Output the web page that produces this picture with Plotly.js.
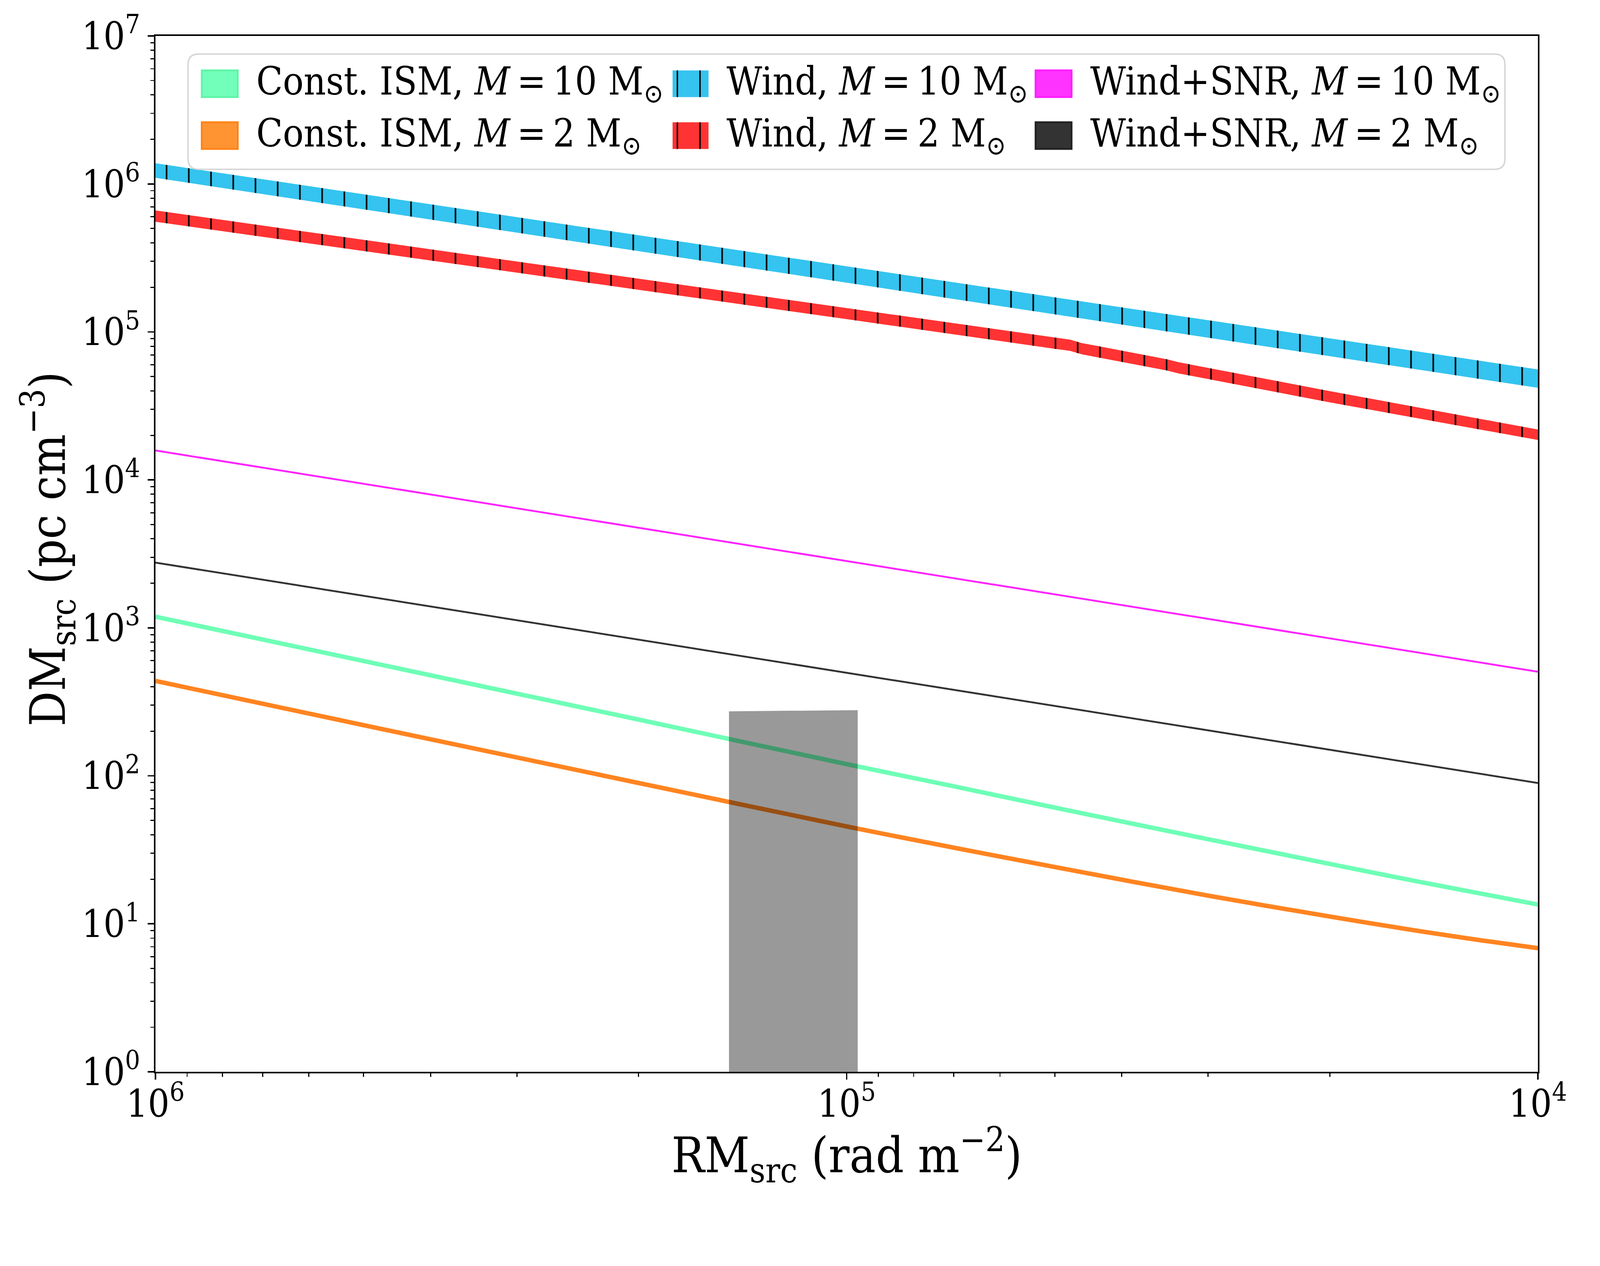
<!DOCTYPE html>
<html>
<head>
<meta charset="utf-8">
<script src="https://cdn.plot.ly/plotly-3.0.1.min.js"></script>
<style>
  html, body { margin: 0; padding: 0; background: #fff; overflow: hidden; }
</style>
</head>
<body>
<div id="chart"></div>
<script>
// values (RM in rad m^-2, DM in pc cm^-3)
var rmIsm = [1e6, 5e5, 2e5, 1e5, 7e4, 5e4, 3e4, 2e4, 1.5e4, 1.2e4, 1e4];
var ismM10 = [1190, 597, 240, 120, 85, 61, 37.3, 25.4, 19.4, 15.9, 13.5];
var ismM2 = [438, 220, 89.5, 45.5, 32.7, 24.2, 15.5, 11.2, 9.0, 7.7, 6.85];

var rmLine = [1e6, 3e5, 1e5, 3e4, 1e4];
var windM10Hi = [1.38e6, 5.96e5, 2.77e5, 1.20e5, 5.58e4];
var windM10Lo = [1.10e6, 4.69e5, 2.15e5, 9.14e4, 4.19e4];
var snrM10 = [1.58e4, 6.44e3, 2.83e3, 1.15e3, 505];
var snrM2 = [2.76e3, 1.13e3, 497, 203, 89.5];

var rmWindM2 = [1e6, 3e5, 1e5, 5e4, 4.75e4, 4.57e4, 3.55e4, 3.44e4, 3.31e4, 2e4, 1e4];
var windM2Hi = [6.62e5, 2.99e5, 1.45e5, 9.16e4, 8.87e4, 8.41e4, 6.71e4, 6.53e4, 6.24e4, 3.98e4, 2.19e4];
var windM2Lo = [5.55e5, 2.51e5, 1.22e5, 7.69e4, 7.44e4, 7.06e4, 5.63e4, 5.48e4, 5.24e4, 3.34e4, 1.86e4];

// observed region (grey box)
var obsRM = [1.48e5, 9.64e4];
var obsDMtop = [273, 278];
var obsDMfloor = 1;

var xTickVals = [1e6, 1e5, 1e4];
var xTickText = ['10<sup>6</sup>', '10<sup>5</sup>', '10<sup>4</sup>'];
var yTickVals = [1, 10, 100, 1e3, 1e4, 1e5, 1e6, 1e7];
var yTickText = ['10<sup>0</sup>', '10<sup>1</sup>', '10<sup>2</sup>', '10<sup>3</sup>',
                 '10<sup>4</sup>', '10<sup>5</sup>', '10<sup>6</sup>', '10<sup>7</sup>'];

var legendLabels = [
  ['Const. ISM, <i>M</i>\u2009=\u200910 M<sub>\u2299</sub>', 'Const. ISM, <i>M</i>\u2009=\u20092 M<sub>\u2299</sub>'],
  ['Wind, <i>M</i>\u2009=\u200910 M<sub>\u2299</sub>', 'Wind, <i>M</i>\u2009=\u20092 M<sub>\u2299</sub>'],
  ['Wind+SNR, <i>M</i>\u2009=\u200910 M<sub>\u2299</sub>', 'Wind+SNR, <i>M</i>\u2009=\u20092 M<sub>\u2299</sub>']
];
var xTitle = 'RM<sub>src</sub>\u00a0(rad m<sup>\u22122</sup>)';
var yTitle = 'DM<sub>src</sub>\u00a0(pc cm<sup>\u22123</sup>)';

var FONT = '"DejaVu Serif Condensed", "DejaVu Serif", serif';
var BLUE = '#34c4ef', RED = '#ff3333';

// the design is laid out for 4320 x 3240; scale to whatever the viewport really is
var VW = document.documentElement.clientWidth || window.innerWidth;
var VH = document.documentElement.clientHeight || window.innerHeight;
var s = Math.min(VW / 4320, VH / 3240);
function S(v) { return v * s; }

function minorTicks(lo, hi) {
  var v = [];
  for (var d = lo; d < hi; d++) {
    for (var k = 2; k <= 9; k++) v.push(k * Math.pow(10, d));
  }
  return v;
}

function hatch(bg) {
  return { shape: '|', fgcolor: 'black', bgcolor: bg, size: S(60), solidity: 0.07, fillmode: 'replace' };
}

var traces = [
  { x: rmIsm, y: ismM10, mode: 'lines', line: { color: '#6effb6', width: S(12), shape: 'spline', smoothing: 0.8 }, showlegend: false, hoverinfo: 'skip' },
  { x: rmIsm, y: ismM2, mode: 'lines', line: { color: '#ff8420', width: S(12), shape: 'spline', smoothing: 0.8 }, showlegend: false, hoverinfo: 'skip' },

  { x: rmLine, y: windM10Lo, mode: 'lines', line: { width: 0 }, showlegend: false, hoverinfo: 'skip' },
  { x: rmLine, y: windM10Hi, mode: 'lines', line: { width: 0 }, fill: 'tonexty', fillcolor: BLUE,
    fillpattern: hatch(BLUE), showlegend: false, hoverinfo: 'skip' },

  { x: rmWindM2, y: windM2Lo, mode: 'lines', line: { width: 0 }, showlegend: false, hoverinfo: 'skip' },
  { x: rmWindM2, y: windM2Hi, mode: 'lines', line: { width: 0 }, fill: 'tonexty', fillcolor: RED,
    fillpattern: hatch(RED), showlegend: false, hoverinfo: 'skip' },

  { x: rmLine, y: snrM10, mode: 'lines', line: { color: '#ff22ff', width: S(5) }, showlegend: false, hoverinfo: 'skip' },
  { x: rmLine, y: snrM2, mode: 'lines', line: { color: '#333333', width: S(5) }, showlegend: false, hoverinfo: 'skip' },

  { x: [obsRM[0], obsRM[1], obsRM[1], obsRM[0]],
    y: [obsDMtop[0], obsDMtop[1], obsDMfloor, obsDMfloor],
    mode: 'lines', line: { width: 0 }, fill: 'toself', fillcolor: 'rgba(0,0,0,0.4)',
    showlegend: false, hoverinfo: 'skip' }
];

// plot area in design pixels (4320 x 3240), used to place the hand-made legend
var L = 420, R = 4152, T = 97, B = 2893;
function px(X) { return (X - L) / (R - L); }
function py(Y) { return (B - Y) / (B - T); }

function roundRect(x0, y0, x1, y1, r) {
  var rx = r / (R - L), ry = r / (B - T);
  var a = px(x0), b = px(x1), c = py(y0), d = py(y1);
  return 'M' + (a + rx) + ',' + c + ' L' + (b - rx) + ',' + c +
    ' Q' + b + ',' + c + ' ' + b + ',' + (c - ry) +
    ' L' + b + ',' + (d + ry) + ' Q' + b + ',' + d + ' ' + (b - rx) + ',' + d +
    ' L' + (a + rx) + ',' + d + ' Q' + a + ',' + d + ' ' + a + ',' + (d + ry) +
    ' L' + a + ',' + (c - ry) + ' Q' + a + ',' + c + ' ' + (a + rx) + ',' + c + ' Z';
}

var shapes = [{
  type: 'path', xref: 'paper', yref: 'paper', layer: 'above',
  path: roundRect(508, 146, 4063, 457, 28),
  fillcolor: 'rgba(255,255,255,0.8)', line: { color: 'rgba(204,204,204,0.8)', width: S(4) }
}];

// axis titles as annotations so they sit where the reference has them
var annotations = [
  { xref: 'paper', yref: 'paper', x: px(2287), y: py(3118), xanchor: 'center', yanchor: 'middle',
    showarrow: false, text: xTitle, font: { family: FONT, size: S(132), color: 'black' } },
  { xref: 'paper', yref: 'paper', x: px(130), y: py(1482), xanchor: 'center', yanchor: 'middle',
    textangle: -90, showarrow: false, text: yTitle, font: { family: FONT, size: S(132), color: 'black' } }
];

var colX = [545, 1816, 2796];
var textX = [690, 1960, 2941];
var rowY = [[190, 262], [330, 402]];
var patchFill = [['#72ffb9', '#ff9433'], [BLUE, RED], ['#ff33ff', '#333333']];
var patchEdge = [['#5ff5a9', '#ff8318'], [BLUE, RED], ['#ff1eff', '#222222']];

for (var c = 0; c < 3; c++) {
  for (var r = 0; r < 2; r++) {
    var x0 = colX[c], y0 = rowY[r][0], y1 = rowY[r][1];
    shapes.push({
      type: 'rect', xref: 'paper', yref: 'paper', layer: 'above',
      x0: px(x0), x1: px(x0 + 97), y0: py(y1), y1: py(y0),
      fillcolor: patchFill[c][r], line: { color: patchEdge[c][r], width: c === 1 ? 0 : S(5) }
    });
    if (c === 1) {
      [13, 74].forEach(function (dx) {
        shapes.push({
          type: 'line', xref: 'paper', yref: 'paper', layer: 'above',
          x0: px(x0 + dx), x1: px(x0 + dx), y0: py(y1), y1: py(y0),
          line: { color: 'black', width: S(4) }
        });
      });
    }
    annotations.push({
      xref: 'paper', yref: 'paper', x: px(textX[c]), y: py((y0 + y1) / 2),
      xanchor: 'left', yanchor: 'middle', showarrow: false,
      text: legendLabels[c][r], font: { family: FONT, size: S(104), color: 'black' }
    });
  }
}

function axisBase() {
  return {
    type: 'log', autorange: false, showgrid: false, zeroline: false,
    showline: true, linecolor: 'black', linewidth: S(4), mirror: true,
    ticks: 'outside', ticklen: S(17), tickwidth: S(4), tickcolor: 'black',
    tickmode: 'array', tickfont: { family: FONT, size: S(102), color: 'black' }
  };
}

var layout = {
  width: S(4320), height: S(3240),
  margin: { l: S(L), r: S(4320 - R), t: S(T), b: S(3240 - B) },
  paper_bgcolor: 'white', plot_bgcolor: 'white',
  font: { family: FONT, color: 'black' },
  showlegend: false,
  xaxis: Object.assign(axisBase(), {
    range: [6, 4], tickvals: xTickVals, ticktext: xTickText,
    ticklabelstandoff: Math.round(-S(22)),
    minor: { ticks: 'outside', ticklen: S(10), tickwidth: S(3), tickcolor: 'black', tickmode: 'array', tickvals: minorTicks(4, 6), showgrid: false }
  }),
  yaxis: Object.assign(axisBase(), {
    range: [0, 7], tickvals: yTickVals, ticktext: yTickText,
    minor: { ticks: 'outside', ticklen: S(10), tickwidth: S(3), tickcolor: 'black', tickmode: 'array', tickvals: minorTicks(0, 7), showgrid: false }
  }),
  shapes: shapes,
  annotations: annotations
};

Plotly.newPlot('chart', traces, layout, { staticPlot: true });
</script>
</body>
</html>
